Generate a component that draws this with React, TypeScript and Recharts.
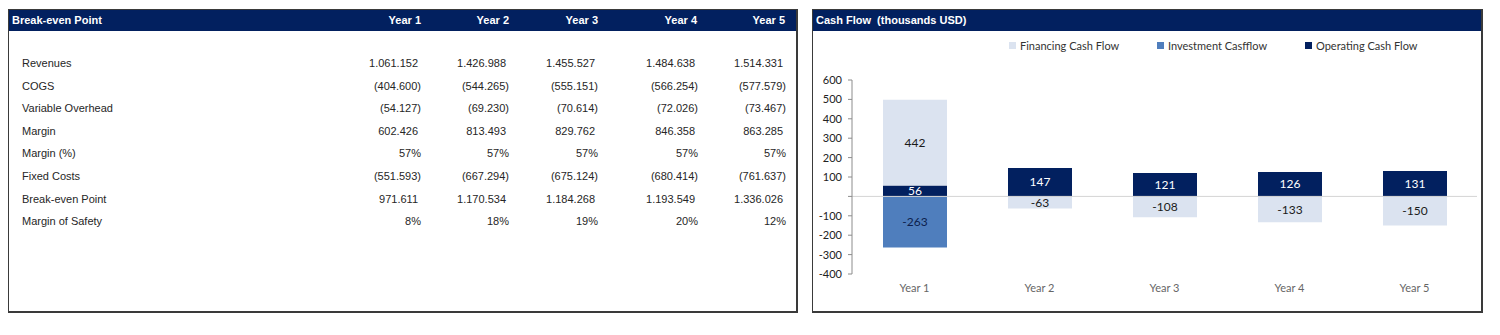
import React from 'react';
import { BarChart, Bar, XAxis, YAxis, ReferenceLine, LabelList } from 'recharts';

const years = ['Year 1', 'Year 2', 'Year 3', 'Year 4', 'Year 5'];

// break-even table
const rowLabels = ['Revenues', 'COGS', 'Variable Overhead', 'Margin', 'Margin (%)', 'Fixed Costs', 'Break-even Point', 'Margin of Safety'];
const revenues = ['1.061.152', '1.426.988', '1.455.527', '1.484.638', '1.514.331'];
const cogs = ['(404.600)', '(544.265)', '(555.151)', '(566.254)', '(577.579)'];
const variableOverhead = ['(54.127)', '(69.230)', '(70.614)', '(72.026)', '(73.467)'];
const margin = ['602.426', '813.493', '829.762', '846.358', '863.285'];
const marginPct = ['57%', '57%', '57%', '57%', '57%'];
const fixedCosts = ['(551.593)', '(667.294)', '(675.124)', '(680.414)', '(761.637)'];
const breakEven = ['971.611', '1.170.534', '1.184.268', '1.193.549', '1.336.026'];
const marginOfSafety = ['8%', '18%', '19%', '20%', '12%'];
const tableRows = [revenues, cogs, variableOverhead, margin, marginPct, fixedCosts, breakEven, marginOfSafety];

// cash flow chart (thousands USD)
const operatingCF = [56, 147, 121, 126, 131];
const financingCF = [442, -63, -108, -133, -150];
const investmentCF = [-263, 0, 0, 0, 0];
const yTicks = [-400, -300, -200, -100, 0, 100, 200, 300, 400, 500, 600];

const chartData = years.map((y, i) => ({
    year: y,
    operating: operatingCF[i],
    financing: financingCF[i],
    investment: investmentCF[i],
}));

const NAVY = '#02205f';
const LIGHT = '#dbe3f0';
const MID = '#4f7ebd';
const colRight = [421, 509, 598, 698, 786];
const headRight = [423, 511, 600, 699, 787];

const panel: React.CSSProperties = {
    position: 'absolute',
    top: 9,
    height: 304,
    border: '1px solid #3a3a3a',
    borderRightWidth: 2,
    borderBottomWidth: 2,
    boxSizing: 'border-box',
    background: '#fff',
};
const band: React.CSSProperties = {
    position: 'absolute',
    left: 0,
    right: 0,
    top: 0,
    height: 21,
    background: NAVY,
};
const headText: React.CSSProperties = {
    position: 'absolute',
    top: 4,
    color: '#fff',
    fontWeight: 'bold',
    fontSize: 11,
    lineHeight: '13px',
    whiteSpace: 'nowrap',
};

const hideZero = (v: unknown) => (Number(v) === 0 ? '' : String(v));

export default function App() {
    const legend = [
        { name: 'Financing Cash Flow', color: LIGHT, x: 1009 },
        { name: 'Investment Casfflow', color: MID, x: 1157 },
        { name: 'Operating Cash Flow', color: NAVY, x: 1305 },
    ];
    return (
        <div style={{ position: 'absolute', left: 0, top: 0, width: 1500, height: 335, background: '#fff', fontFamily: '"Liberation Sans", Arial, sans-serif' }}>
            {/* left panel: table */}
            <div style={{ ...panel, left: 8, width: 790 }}>
                <div style={band} />
                <div style={{ ...headText, left: 3 }}>Break-even Point</div>
                {years.map((y, i) => (
                    <div key={y} style={{ ...headText, right: 790 - (headRight[i] - 8) }}>{y}</div>
                ))}
            </div>
            {rowLabels.map((label, r) => (
                <React.Fragment key={label}>
                    <div style={{ position: 'absolute', left: 22, top: 55 + r * 22.6, fontSize: 11, lineHeight: '16px', color: '#262626', whiteSpace: 'nowrap' }}>{label}</div>
                    {tableRows[r].map((v, c) => (
                        <div
                            key={c}
                            style={{
                                position: 'absolute',
                                right: 1500 - colRight[c] + (v.startsWith('(') || v.endsWith('%') ? 0 : 3),
                                top: 55 + r * 22.6,
                                fontSize: 11,
                                lineHeight: '16px',
                                color: '#262626',
                                whiteSpace: 'nowrap',
                            }}
                        >
                            {v}
                        </div>
                    ))}
                </React.Fragment>
            ))}

            {/* right panel: chart */}
            <div style={{ ...panel, left: 812, width: 671 }}>
                <div style={band} />
                <div style={{ ...headText, left: 3 }}>Cash Flow&nbsp; (thousands USD)</div>
            </div>
            {legend.map((l) => (
                <div key={l.name} style={{ position: 'absolute', left: l.x, top: 39, display: 'flex', alignItems: 'center', fontFamily: 'Lato, "Open Sans", sans-serif', fontSize: 11, color: '#333', whiteSpace: 'nowrap' }}>
                    <span style={{ display: 'inline-block', width: 7, height: 7, background: l.color, marginRight: 4 }} />
                    {l.name}
                </div>
            ))}
            <div style={{ position: 'absolute', left: 812, top: 30 }}>
                <BarChart
                    width={670}
                    height={284}
                    data={chartData}
                    stackOffset="sign"
                    barCategoryGap={0}
                    margin={{ top: 50, right: 5, bottom: 10, left: 4 }}
                    style={{ fontFamily: 'Lato, "Open Sans", sans-serif' }}
                >
                    <XAxis
                        dataKey="year"
                        axisLine={false}
                        tickLine={false}
                        height={30}
                        tickMargin={4}
                        tick={{ fill: '#666', fontSize: 11 }}
                    />
                    <YAxis
                        type="number"
                        domain={[-400, 600]}
                        ticks={yTicks}
                        interval={0}
                        width={36}
                        axisLine={{ stroke: '#8c8c8c' }}
                        tickLine={{ stroke: '#8c8c8c' }}
                        tickSize={4}
                        tickMargin={6}
                        tickFormatter={(v: number) => (v === 0 ? '' : String(v))}
                        tick={{ fill: '#222', fontSize: 11 }}
                    />
                    <ReferenceLine y={0} stroke="#d4d4d4" strokeWidth={1} />
                    <Bar dataKey="operating" stackId="cf" fill={NAVY} barSize={64} isAnimationActive={false}>
                        <LabelList dataKey="operating" position="center" fill="#fff" fontSize={12} formatter={hideZero} />
                    </Bar>
                    <Bar dataKey="financing" stackId="cf" fill={LIGHT} barSize={64} isAnimationActive={false}>
                        <LabelList dataKey="financing" position="center" fill="#1a1a1a" fontSize={12} formatter={hideZero} />
                    </Bar>
                    <Bar dataKey="investment" stackId="cf" fill={MID} barSize={64} isAnimationActive={false}>
                        <LabelList dataKey="investment" position="center" fill="#0d1f4d" fontSize={12} formatter={hideZero} />
                    </Bar>
                </BarChart>
            </div>
        </div>
    );
}
